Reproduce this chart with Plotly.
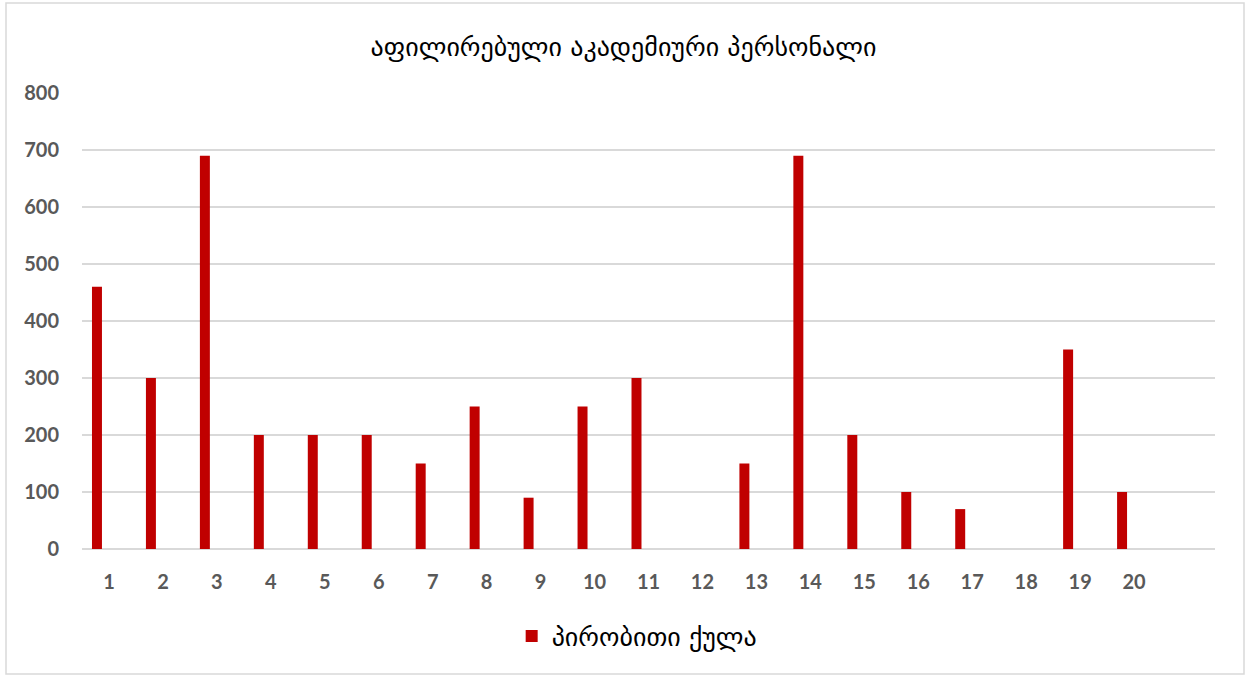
import plotly.graph_objects as go

categories = list(range(1, 21))
scores = [460, 300, 690, 200, 200, 200, 150, 250, 90, 250, 300, 0, 150, 690, 200, 100, 70, 0, 350, 100]
y_ticks = [0, 100, 200, 300, 400, 500, 600, 700, 800]

TITLE = "აფილირებული აკადემიური პერსონალი"
SERIES = "პირობითი ქულა"
RED = "#c00000"
GRID = "#d9d9d9"
TICK_FONT = {"family": "Lato, Open Sans, sans-serif", "size": 20, "color": "#595959", "weight": "bold"}
GEO_FONT = "DejaVu Sans, sans-serif"

fig = go.Figure(
    go.Bar(
        x=categories,
        y=scores,
        name=SERIES,
        marker={"color": RED, "line": {"width": 0}},
        width=0.185,
        offset=-0.315,
    )
)

fig.update_layout(
    width=1247,
    height=675,
    paper_bgcolor="white",
    plot_bgcolor="white",
    margin={"l": 82, "r": 32, "t": 93, "b": 126},
    title={
        "text": TITLE,
        "x": 0.5,
        "xanchor": "center",
        "y": 1 - 47 / 675,
        "yanchor": "middle",
        "font": {"family": GEO_FONT, "size": 26, "color": "black"},
    },
    showlegend=True,
    legend={
        "orientation": "h",
        "x": 0.49,
        "xanchor": "center",
        "y": (549 - 636) / 456,
        "yanchor": "middle",
        "font": {"family": GEO_FONT, "size": 26, "color": "black"},
    },
    xaxis={
        "range": [0.5, 21.5],
        "tickvals": categories,
        "ticktext": [str(c) for c in categories],
        "showgrid": False,
        "zeroline": False,
        "showline": False,
        "ticks": "",
        "tickfont": TICK_FONT,
        "ticklabelstandoff": 19,
        "fixedrange": True,
    },
    yaxis={
        "range": [0, 800],
        "tickvals": y_ticks,
        "showgrid": True,
        "gridcolor": GRID,
        "gridwidth": 2,
        "zeroline": True,
        "zerolinecolor": GRID,
        "zerolinewidth": 2,
        "showline": False,
        "ticks": "",
        "tickfont": TICK_FONT,
        "ticklabelstandoff": 22,
        "fixedrange": True,
    },
    shapes=[
        {
            "type": "rect",
            "xref": "paper",
            "yref": "paper",
            "x0": (6 - 82) / 1133,
            "x1": (1244 - 82) / 1133,
            "y0": (549 - 674) / 456,
            "y1": (549 - 3) / 456,
            "line": {"color": GRID, "width": 1.5},
            "layer": "below",
        }
    ],
)

fig.write_html(
    "out.html",
    config={"displayModeBar": False},
    post_script="document.body.style.margin = '0';",
)
